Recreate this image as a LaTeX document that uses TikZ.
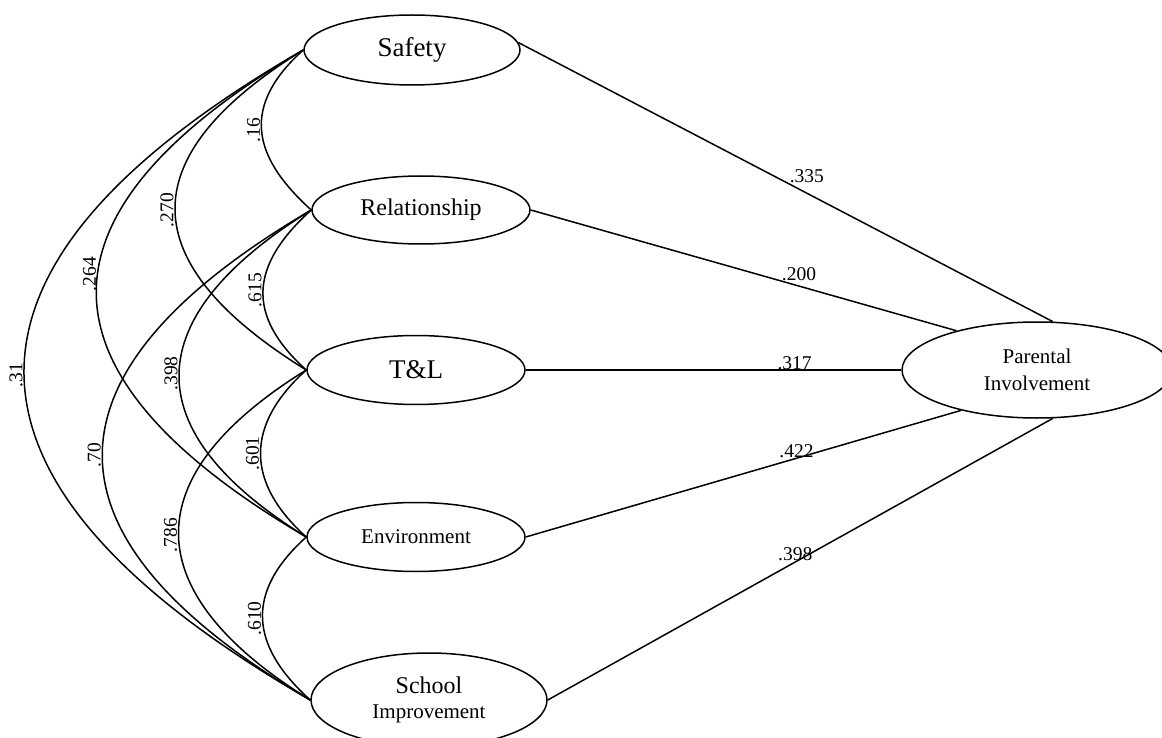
\documentclass[tikz,border=0pt]{standalone}
\usepackage{fontspec}
\setmainfont{Liberation Serif}
\usetikzlibrary{shapes.geometric}
\begin{document}
\begin{tikzpicture}[x=1pt,y=-1pt,line width=1.5pt,
  latent/.style={draw, ellipse, inner sep=0pt, align=center},
  corr/.style={font=\fontsize{19.5}{20}\selectfont, rotate=90, anchor=south, inner sep=0.5pt},
  coef/.style={font=\fontsize{19.5}{20}\selectfont, inner sep=0pt}]
\useasboundingbox (0,0) rectangle (1162,738);
% latent variables
\node[latent, minimum width=216pt, minimum height=70pt, font=\fontsize{27}{30}\selectfont] (safety) at (412,50) {Safety};
\node[latent, minimum width=218pt, minimum height=68pt, font=\fontsize{24}{26}\selectfont] (rel) at (421,210) {Relationship};
\node[latent, minimum width=218pt, minimum height=69pt, font=\fontsize{27}{30}\selectfont] (tl) at (416,370) {T\&L};
\node[latent, minimum width=218pt, minimum height=69pt, font=\fontsize{21}{24}\selectfont] (env) at (416,537) {Environment};
\node[latent, minimum width=236pt, minimum height=94pt, font=\fontsize{21}{25}\selectfont] (school) at (429,700) {{\fontsize{24}{25}\selectfont School}\\Improvement};
\node[latent, minimum width=270pt, minimum height=96pt, font=\fontsize{21}{27}\selectfont] (parent) at (1037,370) {Parental\\Involvement};
% paths to parental involvement
\draw (safety.4) -- (parent.72) node[coef, pos=0.54, yshift=17pt] {.335};
\draw (rel.east) -- (parent.154) node[coef, pos=0.63, yshift=12pt] {.200};
\draw (tl.east) -- (parent.west) node[coef, pos=0.716, yshift=7pt] {.317};
\draw (env.east) -- (parent.208) node[coef, pos=0.622, yshift=7pt] {.422};
\draw (school.east) -- (parent.288) node[coef, pos=0.49, yshift=8pt] {.398};
% correlations (one step)
\draw (safety.west) .. controls +(-61,55) and +(-61,-55) .. (rel.west) node[corr, pos=0.5] {.16};
\draw (rel.west) .. controls +(-61,55) and +(-61,-55) .. (tl.west) node[corr, pos=0.5] {.615};
\draw (tl.west) .. controls +(-61,55) and +(-61,-55) .. (env.west) node[corr, pos=0.5] {.601};
\draw (env.west) .. controls +(-61,55) and +(-61,-55) .. (school.west) node[corr, pos=0.5] {.610};
% two steps
\draw (safety.west) .. controls +(-173,107) and +(-173,-107) .. (tl.west) node[corr, pos=0.5] {.270};
\draw (rel.west) .. controls +(-173,107) and +(-173,-107) .. (env.west) node[corr, pos=0.5] {.398};
\draw (tl.west) .. controls +(-173,107) and +(-173,-107) .. (school.west) node[corr, pos=0.5] {.786};
% three steps
\draw (safety.west) .. controls +(-278,163) and +(-278,-163) .. (env.west) node[corr, pos=0.46] {.264};
\draw (rel.west) .. controls +(-278,163) and +(-278,-163) .. (school.west) node[corr, pos=0.5] {.70};
% four steps
\draw (safety.west) .. controls +(-377,217) and +(-377,-217) .. (school.west) node[corr, pos=0.5] {.31};
\end{tikzpicture}
\end{document}
